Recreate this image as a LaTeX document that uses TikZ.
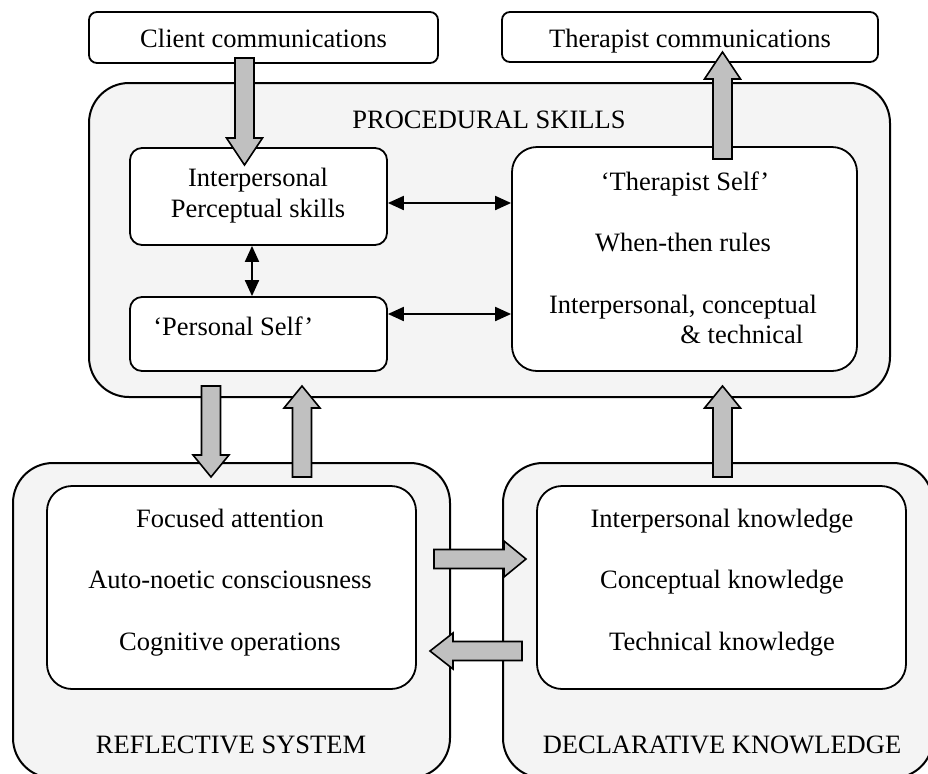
\documentclass[tikz,border=0pt]{standalone}
\usepackage{fontspec}
\setmainfont{Liberation Serif}
\usetikzlibrary{arrows.meta,calc}

\definecolor{panelgray}{HTML}{F4F4F4}
\definecolor{arrowgray}{HTML}{C0C0C0}

\tikzset{
  panel/.style={draw, line width=1pt, fill=panelgray, rounded corners=20pt, inner sep=0pt},
  card/.style={draw, line width=0.9pt, fill=white, rounded corners=#1, inner sep=0pt},
  card/.default=6pt,
  txt/.style={font=\fontsize{13.25pt}{15.25pt}\selectfont, inner sep=0pt, anchor=base},
  dbl/.style={{Triangle[length=8pt,width=7pt]}-{Triangle[length=8pt,width=7pt]}, line width=1pt},
  blockfill/.style={draw, line width=0.8pt, fill=arrowgray, line join=miter},
  % a broad outlined arrow: #1 = total length, #2 = head length (local x axis)
  pics/blockarrow/.style 2 args={code={
    \path[blockfill] (0,-9.5) -- ({#1-#2},-9.5) -- ({#1-#2},-18) -- (#1,0)
      -- ({#1-#2},18) -- ({#1-#2},9.5) -- (0,9.5) -- cycle;
  }}
}

\begin{document}
\begin{tikzpicture}[x=0.5pt, y=-0.5pt]
  \path[use as bounding box, fill=white] (0,0) rectangle (928,773);
  \clip (0,0) rectangle (928,773);

  % outer panels
  \node[panel, minimum width=400.5pt, minimum height=157pt] (proc) at (489.5,240) {};
  \node[panel, minimum width=218.5pt, minimum height=157.5pt] (refl) at (231.5,620.5) {};
  \node[panel, minimum width=215pt, minimum height=157.5pt] (decl) at (718,620.5) {};

  % communication boxes
  \node[card=4pt, minimum width=174.5pt, minimum height=25.5pt] (client) at (263.5,37.5) {};
  \node[card=4pt, minimum width=188pt, minimum height=25pt] (tcomm) at (690,37) {};

  % inner boxes
  \node[card, minimum width=128.5pt, minimum height=48.5pt] (ips) at (258.5,196.5) {};
  \node[card, minimum width=128.5pt, minimum height=37pt] (pself) at (258.5,334) {};
  \node[card=12.5pt, minimum width=172.5pt, minimum height=112pt] (tself) at (684.5,259) {};
  \node[card=12.5pt, minimum width=184.5pt, minimum height=101.5pt] (reflin) at (231.5,587.5) {};
  \node[card=12.5pt, minimum width=184.5pt, minimum height=101.5pt] (declin) at (721.5,587.5) {};

  % two-headed connectors inside the procedural panel
  \draw[dbl] ($(ips.east)+(0,6.5)$) coordinate (h1) -- (h1 -| tself.west);
  \draw[dbl] ($(pself.east)+(0,-20)$) coordinate (h2) -- (h2 -| tself.west);
  \draw[dbl] ($(ips.south)+(-6.5,0)$) coordinate (v1) -- (v1 |- pself.north);

  % broad arrows between the blocks
  \coordinate (b1) at (244.5,58);
  \coordinate (b2) at (722.5,159);
  \coordinate (b3) at (211,386);
  \coordinate (b4) at (302,477);
  \coordinate (b5) at (722.5,477);
  \coordinate (b6) at (434,559);
  \coordinate (b7) at (522,651);
  \pic[rotate=-90] at (b1) {blockarrow={107}{27}};
  \pic[rotate=90]  at (b2) {blockarrow={107}{27}};
  \pic[rotate=-90] at (b3) {blockarrow={91}{22}};
  \pic[rotate=90]  at (b4) {blockarrow={91}{22}};
  \pic[rotate=90]  at (b5) {blockarrow={91}{22}};
  \pic             at (b6) {blockarrow={92}{22}};
  \pic[rotate=180] at (b7) {blockarrow={92}{23}};

  % labels
  \node[txt] (tclient) at (263.5,47) {Client communications};
  \node[txt] (ttcomm) at (690,47) {Therapist communications};
  \node[txt] (tproc) at (489,128) {PROCEDURAL SKILLS};
  \node[txt] (tips1) at (258,186) {Interpersonal};
  \node[txt] (tips2) at (258,217) {Perceptual skills};
  \node[txt, anchor=base west] (tpself) at (153,335) {‘Personal Self’};
  \node[txt] (tts1) at (685,190) {‘Therapist Self’};
  \node[txt] (tts2) at (683,251) {When-then rules};
  \node[txt] (tts3) at (683,313) {Interpersonal, conceptual};
  \node[txt, anchor=base west] (tts4) at (680,343) {\& technical};
  \node[txt] (tr1) at (230,527) {Focused attention};
  \node[txt] (tr2) at (230,588) {Auto-noetic consciousness};
  \node[txt] (tr3) at (230,650) {Cognitive operations};
  \node[txt] (trl) at (231,753) {REFLECTIVE SYSTEM};
  \node[txt] (td1) at (722,527) {Interpersonal knowledge};
  \node[txt] (td2) at (722,588) {Conceptual knowledge};
  \node[txt] (td3) at (722,650) {Technical knowledge};
  \node[txt] (tdl) at (722,753) {DECLARATIVE KNOWLEDGE};
\end{tikzpicture}
\end{document}
